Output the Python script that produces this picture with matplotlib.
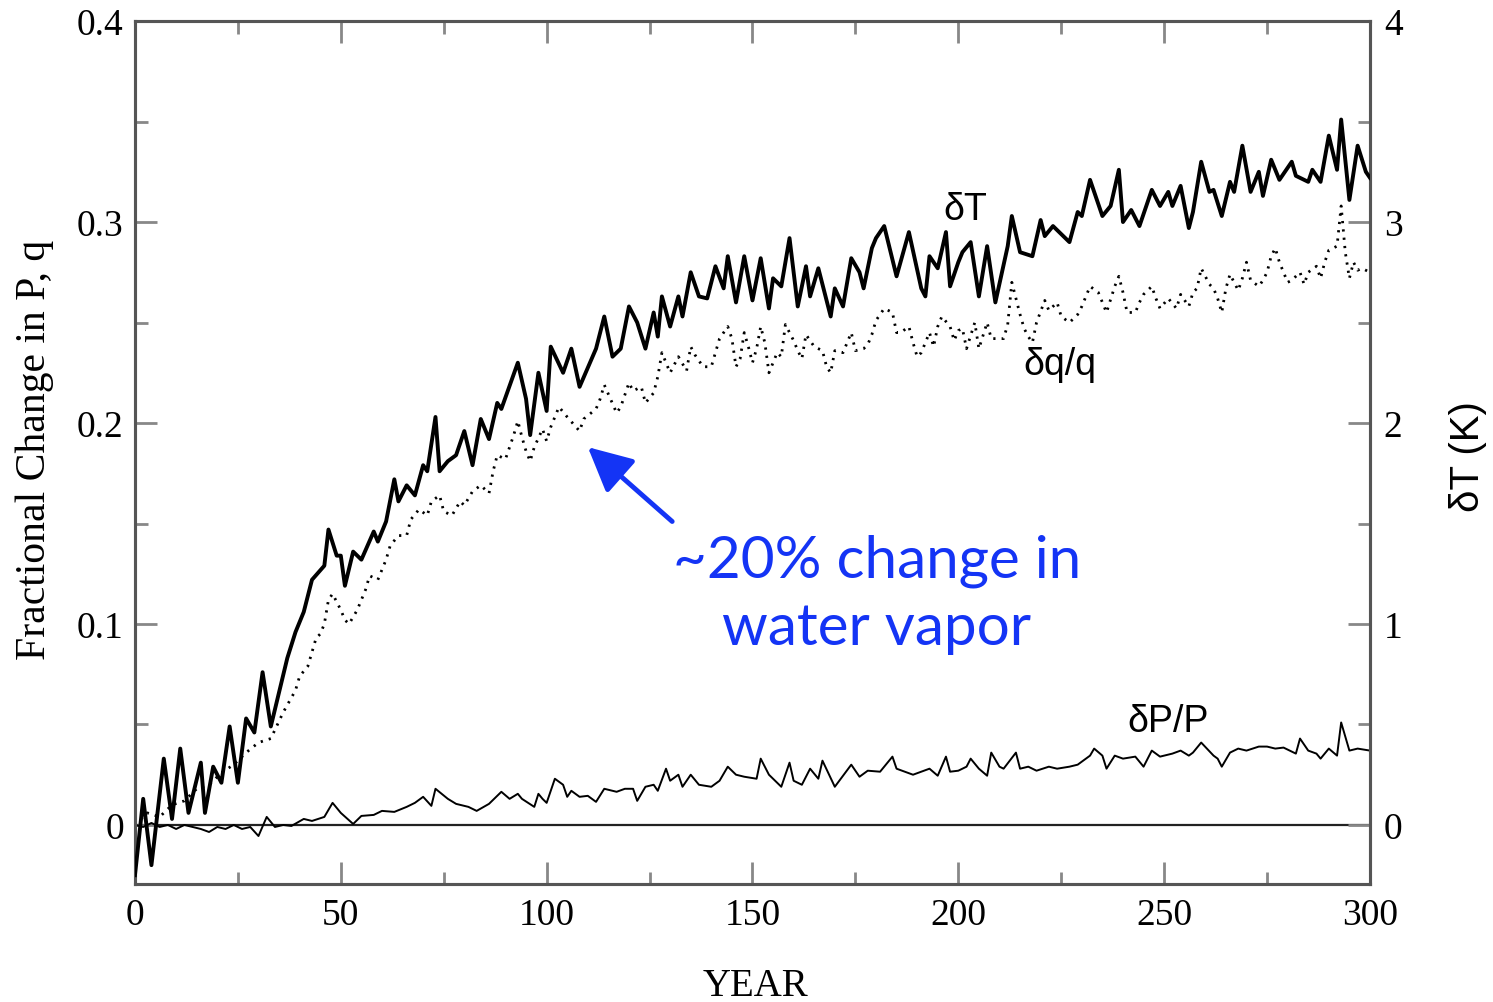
import matplotlib
matplotlib.use('Agg')
import matplotlib.pyplot as plt
from matplotlib.ticker import FixedLocator, FixedFormatter

# ---------------- data ----------------
# Temperature change dT (K), right axis
t_years = [0, 2, 4, 7, 9, 11, 13, 16, 17, 19, 21, 23, 25, 27, 29, 31, 33, 35, 37, 39,
           41, 43, 46, 47, 49, 50, 51, 53, 55, 58, 59, 61, 63, 64, 66, 68, 70, 71, 73, 74,
           76, 78, 80, 82, 84, 86, 88, 89, 93, 95, 96, 98, 100, 101, 104, 106, 108, 112, 114, 116,
           118, 120, 122, 124, 126, 127, 128, 130, 132, 133, 135, 137, 139, 141, 143, 144, 146, 148, 150, 152,
           154, 155, 157, 159, 161, 163, 164, 166, 169, 170, 172, 174, 176, 177, 179, 180, 182, 185, 188, 191,
           192, 193, 195, 197, 198, 200, 201, 203, 205, 207, 209, 212, 213, 215, 218, 220, 221, 223, 227, 229,
           230, 232, 235, 237, 239, 240, 242, 244, 247, 249, 251, 252, 254, 256, 257, 259, 261, 262, 264, 266,
           267, 269, 271, 273, 274, 276, 278, 281, 282, 285, 286, 288, 290, 292, 293, 295, 297, 299, 300]
t_vals = [-0.25, 0.13, -0.20, 0.33, 0.03, 0.38, 0.06, 0.31, 0.06, 0.29, 0.21, 0.49, 0.21, 0.53, 0.46, 0.76, 0.49, 0.66, 0.83, 0.96,
          1.06, 1.22, 1.29, 1.47, 1.34, 1.34, 1.19, 1.36, 1.32, 1.46, 1.41, 1.51, 1.72, 1.61, 1.69, 1.64, 1.79, 1.76, 2.03, 1.76,
          1.81, 1.84, 1.96, 1.79, 2.02, 1.92, 2.10, 2.07, 2.30, 2.12, 1.94, 2.25, 2.06, 2.38, 2.25, 2.37, 2.18, 2.37, 2.53, 2.33,
          2.37, 2.58, 2.50, 2.37, 2.55, 2.43, 2.63, 2.48, 2.63, 2.53, 2.75, 2.63, 2.62, 2.78, 2.67, 2.83, 2.60, 2.83, 2.61, 2.82,
          2.57, 2.72, 2.68, 2.92, 2.58, 2.78, 2.63, 2.77, 2.53, 2.67, 2.58, 2.82, 2.75, 2.67, 2.87, 2.92, 2.98, 2.73, 2.95, 2.67,
          2.63, 2.83, 2.77, 2.95, 2.68, 2.80, 2.85, 2.90, 2.63, 2.88, 2.60, 2.88, 3.03, 2.85, 2.83, 3.01, 2.93, 2.98, 2.90, 3.05,
          3.03, 3.21, 3.03, 3.08, 3.26, 3.00, 3.06, 2.98, 3.16, 3.08, 3.15, 3.08, 3.18, 2.97, 3.05, 3.30, 3.15, 3.16, 3.03, 3.20,
          3.15, 3.38, 3.15, 3.25, 3.13, 3.31, 3.21, 3.30, 3.23, 3.20, 3.26, 3.20, 3.43, 3.26, 3.51, 3.11, 3.38, 3.25, 3.22]

# Fractional change in water vapour dq/q, left axis
q_years = [0, 3, 6, 9, 12, 15, 18, 21, 24, 27, 30, 33, 36, 39, 40, 42, 43, 44, 45, 46,
           47, 48, 49, 50, 51, 52, 54, 56, 57, 59, 61, 62, 64, 66, 67, 69, 71, 72, 74, 75,
           77, 79, 80, 82, 84, 86, 87, 88, 90, 92, 93, 94, 95, 96, 97, 99, 100, 101, 103, 105,
           108, 109, 112, 113, 114, 117, 118, 120, 121, 123, 124, 126, 127, 128, 130, 132, 134, 135, 136, 138,
           140, 141, 142, 144, 145, 146, 147, 148, 149, 150, 151, 152, 153, 154, 156, 157, 158, 160, 161, 162,
           163, 165, 167, 168, 169, 170, 172, 174, 175, 177, 178, 179, 180, 182, 184, 185, 186, 188, 189, 190,
           191, 192, 193, 194, 195, 196, 198, 199, 200, 201, 202, 204, 205, 207, 208, 211, 212, 213, 214, 215,
           216, 217, 218, 219, 221, 222, 224, 225, 227, 229, 230, 232, 234, 235, 236, 238, 239, 240, 241, 243,
           244, 245, 247, 248, 249, 251, 253, 254, 256, 257, 258, 259, 261, 262, 263, 264, 265, 266, 267, 268,
           269, 270, 271, 273, 274, 275, 276, 277, 278, 279, 280, 281, 283, 284, 285, 287, 288, 289, 290, 291,
           292, 293, 294, 295, 296, 297, 298, 300]
q_vals = [0.000, 0.006, 0.004, 0.010, 0.012, 0.018, 0.020, 0.026, 0.030, 0.036, 0.041, 0.043, 0.056, 0.067, 0.074, 0.079, 0.086, 0.093, 0.095, 0.100,
          0.112, 0.115, 0.111, 0.107, 0.102, 0.100, 0.107, 0.117, 0.124, 0.122, 0.132, 0.139, 0.144, 0.144, 0.152, 0.157, 0.154, 0.161, 0.164, 0.156,
          0.154, 0.161, 0.159, 0.166, 0.169, 0.165, 0.176, 0.184, 0.182, 0.194, 0.201, 0.193, 0.186, 0.181, 0.188, 0.197, 0.191, 0.198, 0.208, 0.203,
          0.196, 0.202, 0.207, 0.212, 0.219, 0.205, 0.208, 0.220, 0.216, 0.218, 0.210, 0.215, 0.223, 0.235, 0.225, 0.233, 0.226, 0.238, 0.234, 0.228,
          0.228, 0.235, 0.242, 0.248, 0.242, 0.228, 0.232, 0.245, 0.238, 0.230, 0.237, 0.248, 0.240, 0.225, 0.235, 0.233, 0.249, 0.241, 0.236, 0.232,
          0.244, 0.238, 0.236, 0.228, 0.225, 0.236, 0.235, 0.245, 0.236, 0.237, 0.239, 0.244, 0.251, 0.257, 0.255, 0.245, 0.245, 0.248, 0.240, 0.233,
          0.235, 0.240, 0.245, 0.238, 0.248, 0.253, 0.248, 0.241, 0.246, 0.247, 0.237, 0.250, 0.237, 0.250, 0.242, 0.242, 0.249, 0.270, 0.262, 0.254,
          0.247, 0.243, 0.240, 0.250, 0.261, 0.256, 0.260, 0.253, 0.250, 0.254, 0.258, 0.268, 0.265, 0.260, 0.255, 0.268, 0.273, 0.265, 0.255, 0.255,
          0.260, 0.264, 0.268, 0.262, 0.257, 0.262, 0.257, 0.264, 0.258, 0.265, 0.267, 0.277, 0.269, 0.267, 0.262, 0.255, 0.267, 0.274, 0.270, 0.266,
          0.272, 0.280, 0.271, 0.268, 0.271, 0.275, 0.283, 0.287, 0.280, 0.275, 0.270, 0.271, 0.275, 0.269, 0.275, 0.278, 0.272, 0.280, 0.286, 0.287,
          0.288, 0.308, 0.285, 0.272, 0.280, 0.276, 0.277, 0.275]

# Fractional change in precipitation dP/P, left axis
p_years = [0, 2, 4, 6, 8, 10, 12, 14, 16, 18, 20, 22, 24, 26, 28, 30, 32, 34, 36, 38,
           41, 43, 46, 48, 50, 53, 55, 58, 60, 63, 66, 68, 70, 72, 73, 76, 78, 81, 83, 86,
           89, 91, 93, 94, 97, 98, 99, 100, 102, 104, 105, 106, 108, 110, 112, 114, 117, 119, 121, 122,
           124, 126, 127, 129, 130, 132, 133, 135, 137, 140, 142, 144, 146, 148, 151, 152, 154, 155, 157, 159,
           160, 162, 164, 166, 167, 170, 172, 174, 176, 178, 181, 184, 185, 189, 191, 193, 195, 197, 198, 200,
           202, 203, 205, 207, 208, 210, 211, 214, 215, 217, 219, 222, 224, 227, 229, 232, 233, 235, 236, 238,
           240, 243, 245, 247, 249, 252, 254, 256, 257, 259, 262, 263, 264, 266, 268, 270, 273, 275, 277, 279,
           282, 283, 285, 287, 288, 290, 292, 293, 295, 297, 300]
p_vals = [0.000, -0.001, 0.001, -0.001, 0.000, -0.002, 0.000, -0.001, -0.002, -0.0035, -0.001, -0.002, 0.000, -0.002, -0.001, -0.0055, 0.004, -0.001, 0.000, -0.0005,
          0.003, 0.002, 0.004, 0.011, 0.006, 0.0005, 0.0045, 0.005, 0.007, 0.0065, 0.009, 0.011, 0.014, 0.0095, 0.018, 0.013, 0.0105, 0.009, 0.007, 0.0105,
          0.0165, 0.013, 0.0155, 0.013, 0.009, 0.0155, 0.013, 0.011, 0.023, 0.020, 0.014, 0.017, 0.014, 0.0145, 0.0115, 0.018, 0.0165, 0.018, 0.018, 0.012,
          0.019, 0.020, 0.017, 0.028, 0.022, 0.025, 0.019, 0.025, 0.020, 0.019, 0.022, 0.029, 0.025, 0.024, 0.023, 0.033, 0.025, 0.023, 0.019, 0.031,
          0.022, 0.020, 0.028, 0.023, 0.032, 0.019, 0.0245, 0.030, 0.024, 0.027, 0.0265, 0.034, 0.028, 0.025, 0.0265, 0.028, 0.0245, 0.034, 0.0265, 0.027,
          0.029, 0.033, 0.028, 0.0245, 0.036, 0.029, 0.028, 0.036, 0.028, 0.029, 0.027, 0.029, 0.028, 0.029, 0.030, 0.0345, 0.038, 0.0345, 0.028, 0.0345,
          0.033, 0.034, 0.029, 0.037, 0.034, 0.0355, 0.037, 0.0345, 0.036, 0.041, 0.0345, 0.033, 0.029, 0.036, 0.038, 0.037, 0.039, 0.039, 0.038, 0.0385,
          0.0355, 0.043, 0.037, 0.0355, 0.033, 0.038, 0.0345, 0.051, 0.037, 0.038, 0.037]

x_ticks = [0, 50, 100, 150, 200, 250, 300]
x_tick_labels = ['0', '50', '100', '150', '200', '250', '300']
left_ticks = [0, 0.1, 0.2, 0.3, 0.4]
left_tick_labels = ['0', '0.1', '0.2', '0.3', '0.4']
right_ticks = [0, 1, 2, 3, 4]
right_tick_labels = ['0', '1', '2', '3', '4']

# ---------------- figure ----------------
SERIF = ['Liberation Serif', 'DejaVu Serif']
SANS = ['Liberation Sans', 'DejaVu Sans']
BLUE = '#1434f5'
SPINE = '#555555'
TICK = '#888888'

fig = plt.figure(figsize=(14.93, 10.03), dpi=100)
ax = fig.add_axes([0.0904, 0.1176, 0.8272, 0.8604])
ax2 = ax.twinx()

ax.set_xlim(0, 300)
ax.set_ylim(-0.0294, 0.4)
ax2.set_ylim(-0.294, 4.0)

ax.axhline(0, color='#222222', lw=1.6, zorder=1)
ax.plot(q_years, q_vals, color='black', lw=2.0, ls=(0, (0.8, 2.2)), zorder=2)
ax.plot(p_years, p_vals, color='black', lw=1.4, zorder=3)
ax2.plot(t_years, t_vals, color='black', lw=2.8, zorder=4)

for a in (ax, ax2):
    for s in a.spines.values():
        s.set_color(SPINE)
        s.set_linewidth(2.2)

ax.xaxis.set_major_locator(FixedLocator(x_ticks))
ax.xaxis.set_major_formatter(FixedFormatter(x_tick_labels))
ax.xaxis.set_minor_locator(FixedLocator([25, 75, 125, 175, 225, 275]))
ax.yaxis.set_major_locator(FixedLocator(left_ticks))
ax.yaxis.set_major_formatter(FixedFormatter(left_tick_labels))
ax.yaxis.set_minor_locator(FixedLocator([0.05, 0.15, 0.25, 0.35]))
ax2.yaxis.set_major_locator(FixedLocator(right_ticks))
ax2.yaxis.set_major_formatter(FixedFormatter(right_tick_labels))
ax2.yaxis.set_minor_locator(FixedLocator([0.5, 1.5, 2.5, 3.5]))

ax.tick_params(axis='x', which='both', direction='in', top=True, bottom=True, color=TICK, width=2)
ax.tick_params(axis='y', which='both', direction='in', left=True, right=False, color=TICK, width=2)
ax2.tick_params(axis='y', which='both', direction='in', right=True, color=TICK, width=2)
for a in (ax, ax2):
    a.tick_params(which='major', length=16)
    a.tick_params(which='minor', length=9)
ax.tick_params(axis='x', pad=10)
ax.tick_params(axis='y', pad=8)
ax2.tick_params(axis='y', pad=10)

for lab in ax.get_xticklabels() + ax.get_yticklabels() + ax2.get_yticklabels():
    lab.set_fontfamily(SERIF)
    lab.set_fontsize(27)

fig.text(0.5057, 0.016, 'YEAR', family=SERIF, fontsize=28, ha='center', va='center')
fig.text(0.0234, 0.5513, 'Fractional Change in P, q', family=SERIF, fontsize=30,
         rotation=90, ha='center', va='center')
fig.text(0.9833, 0.5444, 'δT (K)', family=SANS, fontsize=29, rotation=90, ha='center', va='center')

fig.text(0.6463, 0.7906, 'δT', family=SANS, fontsize=27, ha='center', va='center')
fig.text(0.7100, 0.6360, 'δq/q', family=SANS, fontsize=27, ha='center', va='center')
fig.text(0.7823, 0.2802, 'δP/P', family=SANS, fontsize=27, ha='center', va='center')

fig.text(0.5874, 0.4068, '~20% change in\nwater vapor', family=['Lato', 'DejaVu Sans'],
         fontsize=42, color=BLUE, ha='center', va='center', linespacing=1.33)

ax.annotate('', xy=(110.0, 0.188), xytext=(130.5, 0.151), xycoords='data',
            arrowprops=dict(arrowstyle='-|>,head_length=0.9,head_width=0.45', color=BLUE, lw=3.5,
                            mutation_scale=30, shrinkA=0, shrinkB=0))

fig.savefig('out.png', dpi=100)
